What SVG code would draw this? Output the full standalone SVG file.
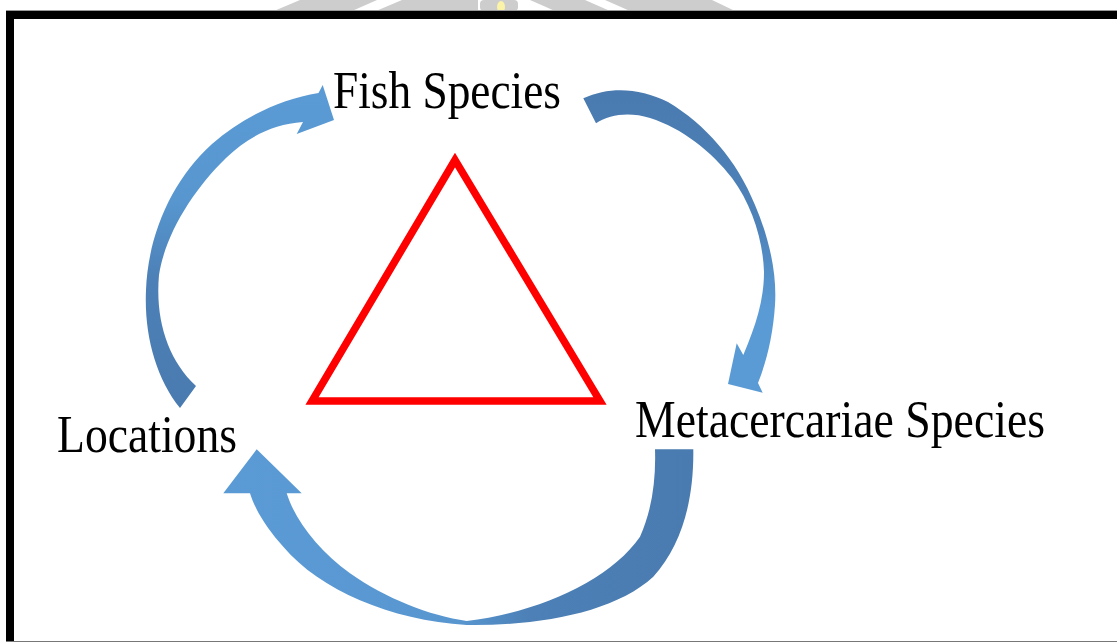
<svg xmlns="http://www.w3.org/2000/svg" width="1117" height="643" viewBox="0 0 1117 643">
<style>
.lbl{font-family:"Liberation Serif","Times New Roman",serif;font-size:52px;fill:#000;}
.wm{fill:#cdcdcd;}
.frame{fill:#000;}
</style>
<defs>
<linearGradient id="g1" gradientUnits="userSpaceOnUse" x1="0" y1="90" x2="0" y2="408">
<stop offset="0" stop-color="#5B9BD5"/><stop offset="0.35" stop-color="#5796cf"/><stop offset="0.6" stop-color="#4c80b6"/><stop offset="1" stop-color="#4a7bb0"/>
</linearGradient>
<linearGradient id="g2" gradientUnits="userSpaceOnUse" x1="0" y1="95" x2="0" y2="392">
<stop offset="0" stop-color="#4a7bb0"/><stop offset="0.45" stop-color="#4d82b9"/><stop offset="0.72" stop-color="#5B9BD5"/><stop offset="1" stop-color="#5B9BD5"/>
</linearGradient>
<linearGradient id="g3" gradientUnits="userSpaceOnUse" x1="225" y1="0" x2="694" y2="0">
<stop offset="0" stop-color="#5B9BD5"/><stop offset="0.5" stop-color="#5896d0"/><stop offset="0.65" stop-color="#4c80b6"/><stop offset="1" stop-color="#4a7bb0"/>
</linearGradient>
</defs>
<rect x="0" y="0" width="1117" height="643" fill="#fff"/>
<g id="watermark">
<polygon class="wm" points="274,11 352,11 377,0 300,0"/>
<polygon class="wm" points="376,11 478,11 478,0 402,0"/>
<rect class="wm" x="480" y="0" width="38" height="11" rx="4"/>
<ellipse cx="501" cy="7" rx="4" ry="6" fill="#fbf3a8"/>
<polygon class="wm" points="530,0 585,0 610,11 555,11"/>
<polygon class="wm" points="605,0 712,0 735,11 630,11"/>
</g>
<g id="frame">
<line x1="6" y1="10.5" x2="1117" y2="10.5" stroke="#999" stroke-width="1"/>
<rect class="frame" x="6" y="11" width="1111" height="8"/>
<rect class="frame" x="6" y="11" width="8" height="631"/>
<line x1="6" y1="641.5" x2="1117" y2="641.5" stroke="#777" stroke-width="1.2"/>
</g>
<g id="center-triangle">
<polygon points="455,160 312,401 600,401" fill="none" stroke="#ff0000" stroke-width="7.5" stroke-linejoin="miter"/>
</g>
<g id="connectors">
<path id="arrow-loc-fish" fill="url(#g1)" d="M180,408 C156,378 144,335 146,290 C148,235 172,180 212,144 C242,118 280,99 318.5,93 L322.7,85 L334,120 L296.7,134 L303,122 C272,124 247,138 226,158 C193,190 165,235 159,275 C155,320 168,360 196,386 Z"/>
<path id="arrow-fish-meta" fill="url(#g2)" d="M583.3,98.3 C610,86 640,88 668,102 C705,124 737,160 755,205 C770,240 777,275 775,305 C773,335 767,360 758,383 L762.7,392.7 L728,384 L736.7,343.3 L743.3,355 C756,325 764,300 764,272 C763,240 752,205 732,178 C712,152 682,128 650,118 C630,112 610,114 596,123.3 Z"/>
<path id="arrow-meta-loc" fill="url(#g3)" d="M693.3,449.3 C694,500 682,545 653.3,576.7 C615,612 540,626 466.7,625 C390,620 320,590 283.3,546.7 C268,530 255,510 250,493.3 L223.3,493.3 L256.7,449.3 L301.7,493.3 L286.7,493.3 C295,520 318,550 350,573.3 C385,598 430,616 466.7,621 C540,612 610,580 640,536.7 C652,510 656,480 655,449.3 Z"/>
</g>
<g id="node-fish">
<text class="lbl" x="333" y="108" textLength="228" lengthAdjust="spacingAndGlyphs">Fish Species</text>
</g>
<g id="node-meta">
<text class="lbl" x="635" y="437" textLength="410" lengthAdjust="spacingAndGlyphs">Metacercariae Species</text>
</g>
<g id="node-loc">
<text class="lbl" x="57" y="452" textLength="180" lengthAdjust="spacingAndGlyphs">Locations</text>
</g>
</svg>
